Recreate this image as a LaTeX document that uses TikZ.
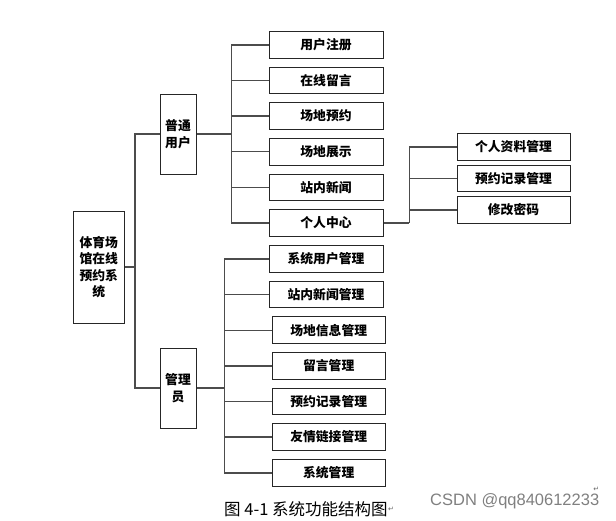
\documentclass[tikz,border=0pt]{standalone}
\usepackage{fontspec}
\setmainfont{Noto Sans CJK SC}
\newfontfamily\wmfont{Liberation Sans}
\newfontfamily\symfont{DejaVu Sans}
\begin{document}
\begin{tikzpicture}[x=1pt,y=-1pt,
  box/.style={draw=black!85,line width=1pt,fill=white,inner sep=0pt,align=center,
    font=\fontsize{12.8}{16.5}\selectfont\bfseries},
  leaf/.style={box,minimum width=114pt,minimum height=26.5pt},
  tall/.style={box,minimum width=36pt,minimum height=80pt},
  conn/.style={draw=black!70,line width=1.3pt}]
\useasboundingbox (0,0) rectangle (616,520);
% root
\node[box,minimum width=51pt,minimum height=112pt] (root) at (98.7,267) {体育场\\馆在线\\预约系\\统};
\node[tall] (u) at (178,134) {普通\\用户};
\node[tall] (a) at (178,388) {管理\\员};
% user children
\node[leaf] (u1) at (326,45) {用户注册};
\node[leaf] (u2) at (326,80.3) {在线留言};
\node[leaf] (u3) at (326,116) {场地预约};
\node[leaf] (u4) at (326,151.8) {场地展示};
\node[leaf] (u5) at (326,187.3) {站内新闻};
\node[leaf] (u6) at (326,223) {个人中心};
% personal children
\node[leaf,minimum width=113pt] (p1) at (513.5,147) {个人资料管理};
\node[leaf,minimum width=113pt] (p2) at (513.5,178.3) {预约记录管理};
\node[leaf,minimum width=113pt] (p3) at (513.5,210) {修改密码};
% admin children
\node[leaf] (a1) at (326,259) {系统用户管理};
\node[leaf] (a2) at (326,294.7) {站内新闻管理};
\node[leaf,minimum width=113pt] (a3) at (328.7,330.2) {场地信息管理};
\node[leaf,minimum width=113pt] (a4) at (328.7,366) {留言管理};
\node[leaf,minimum width=113pt] (a5) at (328.7,401.7) {预约记录管理};
\node[leaf,minimum width=113pt] (a6) at (328.7,437) {友情链接管理};
\node[leaf,minimum width=113pt] (a7) at (328.7,473) {系统管理};
% buses
\coordinate (b0) at (135,0);
\coordinate (b1) at (231.7,0);
\coordinate (b2) at (224.3,0);
\coordinate (b3) at (409.3,0);
% root level
\draw[conn] (root.east) -- (root.east -| b0);
\draw[conn] (u.west) -- (u.west -| b0) -- (a.west -| b0) -- (a.west);
% user level
\draw[conn] (u.east) -- (u.east -| b1);
\draw[conn] (u1.west) -- (u1.west -| b1) -- (u6.west -| b1) -- (u6.west);
\foreach \n in {u2,u3,u4,u5} \draw[conn] (\n.west) -- (\n.west -| b1);
% personal center
\draw[conn] (u6.east) -- (u6.east -| b3);
\draw[conn] (p1.west) -- (p1.west -| b3) -- (u6.east -| b3);
\foreach \n in {p2,p3} \draw[conn] (\n.west) -- (\n.west -| b3);
% admin level
\draw[conn] (a.east) -- (a.east -| b2);
\draw[conn] (a1.west) -- (a1.west -| b2) -- (a7.west -| b2) -- (a7.west);
\foreach \n in {a2,a3,a4,a5,a6} \draw[conn] (\n.west) -- (\n.west -| b2);
% caption
\node[anchor=west,inner sep=0pt,font=\fontsize{16.5}{18}\selectfont] (cap) at (224,509) {图 4-1 系统功能结构图};
\node[anchor=west,inner sep=0pt,text=black!60,font=\symfont\fontsize{7}{8}\selectfont] (cr) at (cap.east) {↵};
\node[anchor=west,inner sep=0pt,text=black!50,font=\wmfont\fontsize{16.5}{18}\selectfont] (wm) at (430,501) {CSDN @qq840612233};
\node[anchor=south east,inner sep=0pt,text=black!60,font=\symfont\fontsize{7}{8}\selectfont] (cr2) at ([yshift=1.5pt]wm.north east) {↵};
\end{tikzpicture}
\end{document}
